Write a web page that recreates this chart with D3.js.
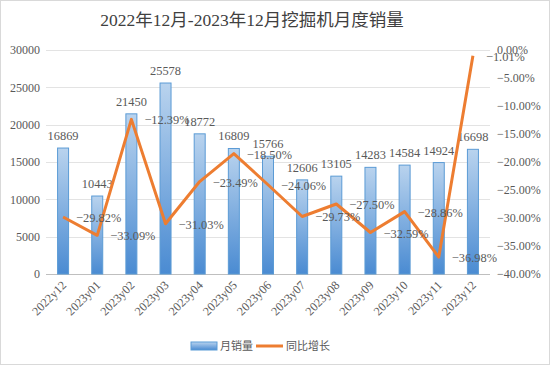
<!DOCTYPE html>
<html lang="zh">
<head>
<meta charset="utf-8" />
<title>挖掘机月度销量</title>
<style>
    body { margin: 0; background: #fff; }
    text { font-family: "Liberation Serif", "Noto Sans CJK SC", serif; fill: #595959; }
</style>
</head>
<body>
<script src="https://cdn.jsdelivr.net/npm/d3@7/dist/d3.min.js"></script>
<script>
// 数据
var months = ["2022y12","2023y01","2023y02","2023y03","2023y04","2023y05","2023y06",
              "2023y07","2023y08","2023y09","2023y10","2023y11","2023y12"];
var sales = [16869, 10443, 21450, 25578, 18772, 16809, 15766, 12606, 13105, 14283, 14584, 14924, 16698];
var growth = [-29.82, -33.09, -12.39, -31.03, -23.49, -18.50, -24.06, -29.73, -27.50, -32.59, -28.86, -36.98, -1.01];
var leftTicks = [0, 5000, 10000, 15000, 20000, 25000, 30000];
var rightTicks = [0, -5, -10, -15, -20, -25, -30, -35, -40];

var width = 550, height = 365;
var pLeft = 46, pRight = 490, pTop = 50, pBottom = 274;

var svg = d3.select("body").append("svg")
    .attr("width", width)
    .attr("height", height);

var defs = svg.append("defs");
var grad = defs.append("linearGradient")
    .attr("id", "barGrad").attr("x1", 0).attr("y1", 0).attr("x2", 0).attr("y2", 1);
grad.append("stop").attr("offset", "0%").attr("stop-color", "#b9d3ee");
grad.append("stop").attr("offset", "100%").attr("stop-color", "#4a8bd2");

svg.append("rect")
    .attr("x", 0.5).attr("y", 0.5)
    .attr("width", width - 1).attr("height", height - 1)
    .attr("fill", "#fff").attr("stroke", "#d9d9d9");

var x = d3.scaleBand().domain(months).range([pLeft, pRight]).paddingInner(0.66).paddingOuter(0.33);
var y = d3.scaleLinear().domain([0, 30000]).range([pBottom, pTop]);
var y2 = d3.scaleLinear().domain([-40, 0]).range([pBottom, pTop]);

// 标题
svg.append("text")
    .attr("x", 252).attr("y", 26)
    .attr("text-anchor", "middle")
    .style("font-size", "17.5px")
    .style("fill", "#404040")
    .text("2022年12月-2023年12月挖掘机月度销量");

// 网格线
svg.append("g")
    .selectAll("line")
    .data(leftTicks)
    .enter()
    .append("line")
    .attr("x1", pLeft).attr("x2", pRight)
    .attr("y1", function(d){ return Math.round(y(d)) + 0.5; })
    .attr("y2", function(d){ return Math.round(y(d)) + 0.5; })
    .attr("stroke", function(d){ return d === 0 ? "#bfbfbf" : "#e3e3e3"; })
    .attr("stroke-width", 1);

// 左轴
var yAxis = svg.append("g")
    .attr("transform", "translate(" + (pLeft - 6) + ",0)")
    .call(d3.axisLeft(y).tickValues(leftTicks).tickSize(0).tickPadding(0)
        .tickFormat(function(d){ return d; }));
yAxis.select(".domain").remove();
yAxis.selectAll("text").style("font-size", "12px").style("fill", "#595959")
    .style("font-family", "'Liberation Serif', serif");

// 右轴
var y2Axis = svg.append("g")
    .attr("transform", "translate(" + (pRight + 7) + ",0)")
    .call(d3.axisRight(y2).tickValues(rightTicks).tickSize(0).tickPadding(0)
        .tickFormat(function(d){ return d3.format(".2f")(d) + "%"; }));
y2Axis.select(".domain").remove();
y2Axis.selectAll("text").style("font-size", "12px").style("fill", "#595959")
    .style("font-family", "'Liberation Serif', serif");

// 柱
var barW = 11;
svg.append("g")
    .selectAll("rect")
    .data(sales)
    .enter()
    .append("rect")
    .attr("x", function(d, i){ return x(months[i]) + x.bandwidth() / 2 - barW / 2; })
    .attr("y", function(d){ return y(d); })
    .attr("width", barW)
    .attr("height", function(d){ return pBottom - y(d); })
    .attr("fill", "url(#barGrad)")
    .attr("stroke", "#5b9bd5")
    .attr("stroke-width", 1);

// 柱标签
svg.append("g")
    .selectAll("text")
    .data(sales)
    .enter()
    .append("text")
    .attr("x", function(d, i){ return x(months[i]) + x.bandwidth() / 2; })
    .attr("y", function(d){ return y(d) - 8; })
    .attr("text-anchor", "middle")
    .style("font-size", "12.4px")
    .text(function(d){ return d; });

// 折线
var line = d3.line()
    .x(function(d, i){ return x(months[i]) + x.bandwidth() / 2; })
    .y(function(d){ return y2(d); });

svg.append("path")
    .datum(growth)
    .attr("d", line)
    .attr("fill", "none")
    .attr("stroke", "#ed7d31")
    .attr("stroke-width", 3)
    .attr("stroke-linejoin", "round");

// 折线标签
svg.append("g")
    .selectAll("text")
    .data(growth)
    .enter()
    .append("text")
    .attr("x", function(d, i){ return x(months[i]) + x.bandwidth() / 2 + 13; })
    .attr("y", function(d){ return y2(d) + 5; })
    .style("font-size", "12.4px")
    .text(function(d){ return d3.format(".2f")(d) + "%"; });

// x轴标签
svg.append("g")
    .selectAll("text")
    .data(months)
    .enter()
    .append("text")
    .attr("transform", function(d){
        return "translate(" + (x(d) + x.bandwidth() / 2 + 4) + "," + (pBottom + 12) + ") rotate(-45)";
    })
    .attr("text-anchor", "end")
    .style("font-size", "12.2px")
    .text(function(d){ return d; });

// 图例
var lg = svg.append("g");
lg.append("rect")
    .attr("x", 191).attr("y", 342).attr("width", 26).attr("height", 8)
    .attr("fill", "url(#barGrad)").attr("stroke", "#5b9bd5");
lg.append("text")
    .attr("x", 220).attr("y", 350)
    .style("font-size", "11px")
    .text("月销量");
lg.append("line")
    .attr("x1", 256).attr("x2", 283).attr("y1", 346).attr("y2", 346)
    .attr("stroke", "#ed7d31").attr("stroke-width", 3);
lg.append("text")
    .attr("x", 286).attr("y", 350)
    .style("font-size", "11px")
    .text("同比增长");
</script>
</body>
</html>
